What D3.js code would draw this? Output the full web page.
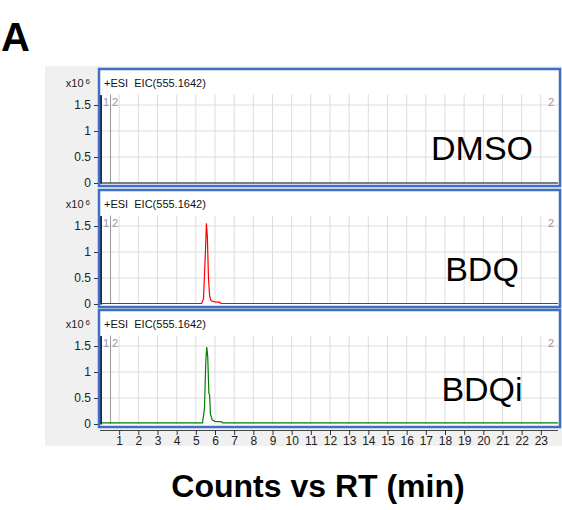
<!DOCTYPE html>
<html>
<head>
<meta charset="utf-8">
<script src="https://cdn.jsdelivr.net/npm/d3@7"></script>
<style>
  body { margin: 0; background: #fff; }
  svg { font-family: "Liberation Sans", Arial, sans-serif; }
</style>
</head>
<body>
<div id="chart"></div>
<script>
// Data (RT in min, counts in x10^6)
const panelNames = ["DMSO", "BDQ", "BDQi"];
const lineColors = ["#000000", "#ff0000", "#008000"];
const dmsoRT = [0, 23.9];
const dmsoCounts = [0.0, 0.0];
const bdqRT = [0, 5.30, 5.40, 5.50, 5.55, 5.60, 5.66, 5.72, 5.80, 6.00, 6.25, 6.30, 23.9];
const bdqCounts = [0.01, 0.01, 0.10, 1.00, 1.55, 1.30, 0.50, 0.15, 0.06, 0.04, 0.03, 0.01, 0.01];
const bdqiRT = [0, 5.35, 5.45, 5.52, 5.57, 5.62, 5.68, 5.72, 5.76, 5.85, 6.00, 6.35, 6.40, 23.9];
const bdqiCounts = [0.02, 0.02, 0.30, 1.20, 1.48, 1.30, 0.60, 0.55, 0.20, 0.08, 0.05, 0.04, 0.02, 0.02];
const yTicks = [0, 0.5, 1, 1.5];
const xTicks = d3.range(1, 24);
const traceTitle = "+ESI  EIC(555.1642)";

const series = [
  dmsoRT.map((t, i) => ({ t, c: dmsoCounts[i] })),
  bdqRT.map((t, i) => ({ t, c: bdqCounts[i] })),
  bdqiRT.map((t, i) => ({ t, c: bdqiCounts[i] }))
];

const width = 562, height = 510;
const svg = d3.select("#chart").append("svg")
  .attr("width", width)
  .attr("height", height);

// gray frame of the instrument window
svg.append("rect")
  .attr("x", 45).attr("y", 66)
  .attr("width", width - 45).attr("height", 380)
  .attr("fill", "#f0f0f0");

const x = d3.scaleLinear().domain([0, 24]).range([100, 560]);
const panelTops = [69, 190, 310];
const panelH = 117;

panelTops.forEach((top, i) => {
  const y = d3.scaleLinear().domain([0, 1.7]).range([top + 114, top + 25.6]);
  const g = svg.append("g");

  g.append("rect")
    .attr("x", 99).attr("y", top)
    .attr("width", 461).attr("height", panelH)
    .attr("fill", "#fff");

  // grid
  g.selectAll(".vg").data(xTicks).enter().append("line")
    .attr("x1", d => x(d)).attr("x2", d => x(d))
    .attr("y1", y(1.7)).attr("y2", y(0))
    .attr("stroke", "#dcdcdc").attr("stroke-width", 1);
  g.selectAll(".hg").data(yTicks.slice(1)).enter().append("line")
    .attr("x1", 100).attr("x2", 558)
    .attr("y1", d => y(d)).attr("y2", d => y(d))
    .attr("stroke", "#dcdcdc").attr("stroke-width", 1);

  // marker line 1|2
  g.append("line")
    .attr("x1", x(0.55)).attr("x2", x(0.55))
    .attr("y1", y(1.7)).attr("y2", y(0))
    .attr("stroke", "#999").attr("stroke-width", 1);
  g.append("text").attr("x", 103).attr("y", top + 37)
    .attr("font-size", 11).attr("fill", "#999").text("1");
  g.append("text").attr("x", 112).attr("y", top + 37)
    .attr("font-size", 11).attr("fill", "#999").text("2");
  g.append("text").attr("x", 548).attr("y", top + 37)
    .attr("font-size", 11).attr("fill", "#999").text("2");

  // trace
  const line = d3.line().x(d => x(d.t)).y(d => y(d.c));
  g.append("path")
    .datum(series[i])
    .attr("d", line)
    .attr("fill", "none")
    .attr("stroke", lineColors[i])
    .attr("stroke-width", 1.2);

  // y axis
  const yAxis = g.append("g")
    .attr("transform", "translate(100,0)")
    .call(d3.axisLeft(y).tickValues(yTicks).tickFormat(d3.format("")).tickSize(6).tickSizeOuter(0));
  yAxis.select(".domain").attr("stroke", "#1a2a50").attr("stroke-width", 3);
  yAxis.selectAll(".tick line").attr("stroke", "#333");
  yAxis.selectAll(".tick text")
    .attr("font-size", 12).attr("fill", "#222")
    .attr("font-family", "Liberation Sans, Arial, sans-serif");

  // panel border
  g.append("rect")
    .attr("x", 99).attr("y", top)
    .attr("width", 461).attr("height", panelH)
    .attr("fill", "none")
    .attr("stroke", "#3d6fc7").attr("stroke-width", 2.5);

  // exponent label and trace title
  const ex = g.append("text").attr("x", 90).attr("y", top + 18)
    .attr("text-anchor", "end").attr("font-size", 11).attr("fill", "#222");
  ex.append("tspan").text("x10");
  ex.append("tspan").attr("dx", 2).attr("dy", -3).attr("font-size", 8).text("6");

  g.append("text").attr("x", 104).attr("y", top + 18)
    .attr("font-size", 11).attr("fill", "#111")
    .attr("xml:space", "preserve").text(traceTitle);

  g.append("text").attr("x", 482).attr("y", top + 91)
    .attr("text-anchor", "middle").attr("font-size", 34)
    .attr("fill", "#000").text(panelNames[i]);
});

// shared x axis
const xAxis = svg.append("g")
  .attr("transform", "translate(0,430)")
  .call(d3.axisBottom(x).tickValues(xTicks).tickFormat(d3.format("d")).tickSize(5).tickSizeOuter(0));
xAxis.select(".domain").attr("stroke", "#444").attr("d", `M${x(0)},0.5H${x(24) - 2}`);
xAxis.selectAll(".tick line").attr("stroke", "#333");
xAxis.selectAll(".tick text")
  .attr("font-size", 12).attr("fill", "#222").attr("dy", "0.55em")
  .attr("font-family", "Liberation Sans, Arial, sans-serif");

svg.append("text")
  .attr("x", 318).attr("y", 497)
  .attr("text-anchor", "middle")
  .attr("font-size", 32).attr("font-weight", "bold")
  .text("Counts vs RT (min)");

svg.append("text")
  .attr("x", 1).attr("y", 51)
  .attr("font-size", 40).attr("font-weight", "bold")
  .text("A");
</script>
</body>
</html>
